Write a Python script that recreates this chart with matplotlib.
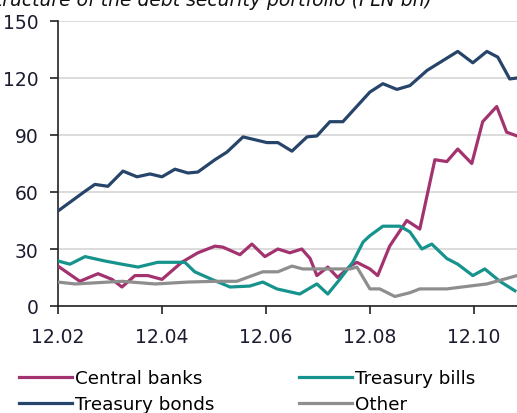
import numpy as np
import matplotlib
matplotlib.use('Agg')
import matplotlib.pyplot as plt

# ------------------------- DATA -------------------------
# x values are decimal years, values in PLN bn

bonds_t = [2002.00, 2002.50, 2002.71, 2002.96, 2003.25, 2003.52, 2003.77, 2004.00, 2004.25,
           2004.50, 2004.69, 2005.02, 2005.25, 2005.56, 2006.02, 2006.23, 2006.50, 2006.79,
           2006.98, 2007.23, 2007.48, 2008.00, 2008.25, 2008.52, 2008.77, 2009.10, 2009.69,
           2009.98, 2010.25, 2010.46, 2010.69, 2010.83]
bonds_v = [50, 60, 64, 63, 71, 68, 69.5, 68, 72,
           70, 70.5, 77, 81, 89, 86, 86, 81.5, 89,
           89.5, 97, 97, 112.6, 117, 114, 116, 124, 134,
           128, 134, 131, 119.5, 120]

cb_t = [2002.00, 2002.42, 2002.77, 2003.04, 2003.23, 2003.48, 2003.73, 2004.00, 2004.38,
        2004.69, 2005.02, 2005.17, 2005.50, 2005.73, 2005.98, 2006.23, 2006.46, 2006.69,
        2006.85, 2006.98, 2007.19, 2007.38, 2007.62, 2007.75, 2008.00, 2008.15, 2008.38,
        2008.71, 2008.96, 2009.25, 2009.48, 2009.69, 2009.96, 2010.17, 2010.44, 2010.63, 2010.83]
cb_v = [21, 13, 17, 14, 10, 16, 16, 14, 23,
        28, 31.5, 31, 27, 32.6, 26, 30, 28, 30,
        25, 16, 20.5, 15, 21, 23, 19.5, 16, 31.5,
        45, 40.5, 77, 76, 82.6, 75, 97, 105, 91.5, 89.5]

bills_t = [2002.00, 2002.23, 2002.52, 2002.90, 2003.23, 2003.54, 2003.92, 2004.19, 2004.44,
           2004.63, 2004.96, 2005.31, 2005.69, 2005.94, 2006.21, 2006.65, 2006.98, 2007.19,
           2007.42, 2007.67, 2007.87, 2008.00, 2008.25, 2008.58, 2008.77, 2009.00, 2009.19,
           2009.48, 2009.69, 2009.98, 2010.21, 2010.50, 2010.79]
bills_v = [23.7, 22, 26, 23.7, 22, 20.5, 23, 23, 23,
           18, 14, 10, 10.5, 12.6, 9, 6.3, 11.6, 6.3,
           14, 23, 33.7, 37, 42, 42, 39, 30, 32.6,
           25, 22, 16, 19.5, 13, 8]

other_t = [2002.00, 2002.33, 2003.23, 2003.87, 2004.50, 2005.02, 2005.44, 2005.94, 2006.23,
           2006.50, 2006.71, 2007.62, 2007.75, 2008.00, 2008.19, 2008.48, 2008.77, 2008.96,
           2009.48, 2009.92, 2010.25, 2010.83]
other_v = [12.6, 11.6, 13, 11.6, 12.6, 13, 13, 18, 18,
           21, 19.5, 19.5, 20.5, 9, 9, 5, 7, 9,
           9, 10.5, 11.6, 16]

x_ticks = [2002, 2004, 2006, 2008, 2010]
x_labels = ['12.02', '12.04', '12.06', '12.08', '12.10']
y_ticks = [0, 30, 60, 90, 120, 150]

title = 'Structure of the debt security portfolio (PLN bn)'

# ------------------------- PLOT -------------------------

W, H = 517, 414
fig = plt.figure(figsize=(W / 100, H / 100), dpi=100)
ax = fig.add_axes([58 / W, 107 / H, (W - 58) / W, 285 / H])

lw = 2.3
ax.plot(cb_t, cb_v, color='#a3336f', lw=lw, solid_joinstyle='round', label='Central banks', zorder=3)
ax.plot(bonds_t, bonds_v, color='#27446a', lw=lw, solid_joinstyle='round', label='Treasury bonds', zorder=3)
ax.plot(bills_t, bills_v, color='#15938c', lw=lw, solid_joinstyle='round', label='Treasury bills', zorder=3)
ax.plot(other_t, other_v, color='#8e8e8e', lw=lw, solid_joinstyle='round', label='Other', zorder=3)

ax.set_xlim(2002, 2010.83)
ax.set_ylim(0, 150)
ax.set_xticks(x_ticks)
ax.set_xticklabels(x_labels)
ax.set_yticks(y_ticks)

ax.grid(axis='y', color='#d9d9d9', lw=1.3, zorder=0)
ax.set_axisbelow(True)
for s in ['top', 'right']:
    ax.spines[s].set_visible(False)
for s in ['left', 'bottom']:
    ax.spines[s].set_color('#222222')
    ax.spines[s].set_linewidth(1.2)

ax.tick_params(axis='both', direction='out', length=6, width=1.2, color='#222222',
               labelsize=13.5, labelcolor='#1c1c30')
ax.tick_params(axis='x', pad=9)
ax.tick_params(axis='y', pad=8)

fig.text(-0.032, 1 - 6 / H, title, fontsize=13.5, style='italic', va='baseline', color='#111111')

fig.legend(loc='upper left', bbox_to_anchor=(19 / W, 1 - 370 / H), ncol=2, frameon=False,
           fontsize=13.2, handlelength=2.9, handletextpad=0.15, columnspacing=4.6,
           labelspacing=0.45, borderaxespad=0, borderpad=0)

fig.savefig('out.png', dpi=100)
